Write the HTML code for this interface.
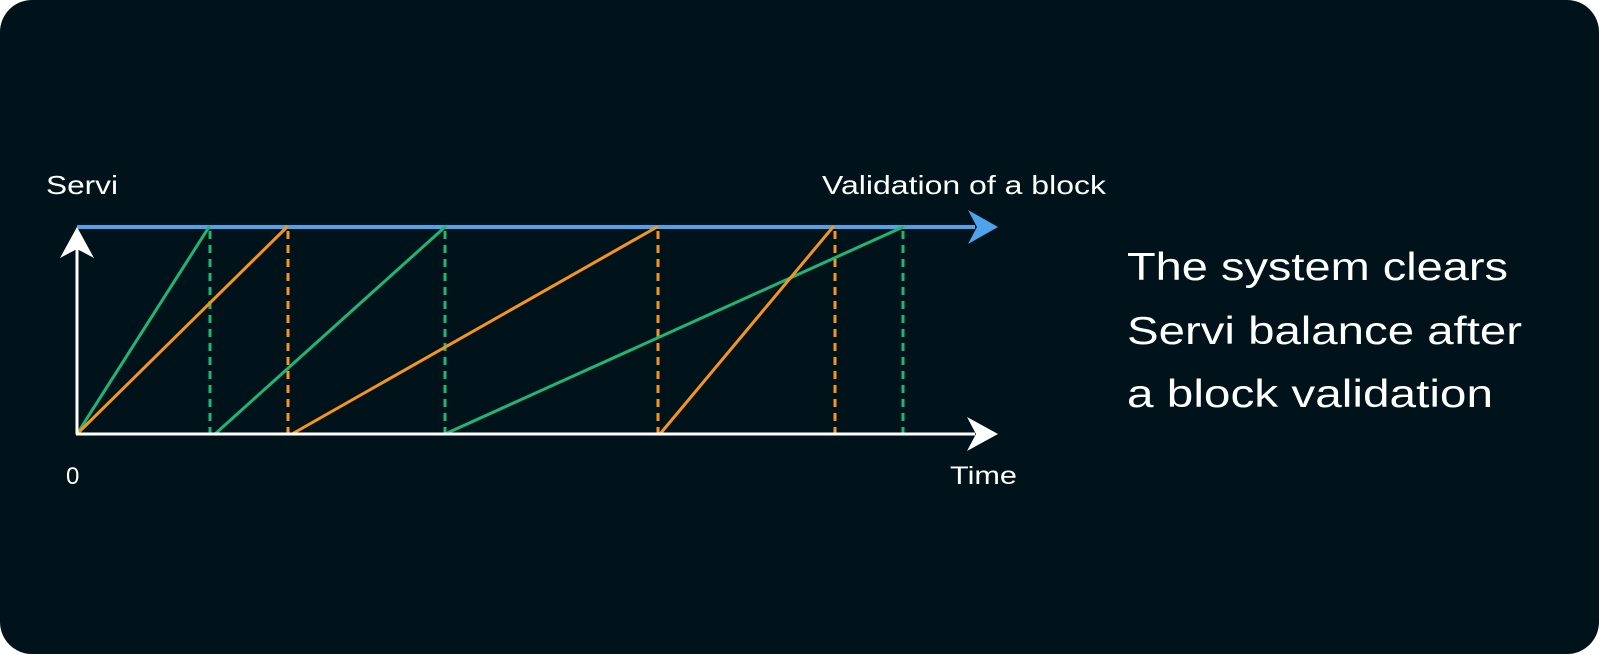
<!DOCTYPE html>
<html><head><style>
html,body{margin:0;padding:0;background:#fff;}
svg{display:block}
</style></head><body>
<svg width="1600" height="655" viewBox="0 0 1600 655" xmlns="http://www.w3.org/2000/svg">
<rect x="0" y="0" width="1599" height="654" rx="32" ry="32" fill="#00131b"/>
<g font-family="Liberation Sans, sans-serif" fill="#ffffff">
<text x="46" y="194" font-size="26" textLength="72" lengthAdjust="spacingAndGlyphs">Servi</text>
<text x="822" y="194" font-size="26" textLength="284" lengthAdjust="spacingAndGlyphs">Validation of a block</text>
<text x="66" y="484" font-size="24">0</text>
<text x="950" y="484" font-size="25" textLength="67" lengthAdjust="spacingAndGlyphs">Time</text>
<text x="1127" y="280" font-size="39" textLength="381" lengthAdjust="spacingAndGlyphs">The system clears</text>
<text x="1127" y="344" font-size="39" textLength="395" lengthAdjust="spacingAndGlyphs">Servi balance after</text>
<text x="1127" y="407" font-size="39" textLength="366" lengthAdjust="spacingAndGlyphs">a block validation</text>
</g>
<!-- dashed verticals -->
<g stroke-width="3" stroke-dasharray="8,6" fill="none">
<line x1="210" y1="231" x2="210" y2="434" stroke="#1fb574"/>
<line x1="288" y1="231" x2="288" y2="434" stroke="#f7941d"/>
<line x1="445" y1="231" x2="445" y2="434" stroke="#1fb574"/>
<line x1="658" y1="231" x2="658" y2="434" stroke="#f7941d"/>
<line x1="835" y1="231" x2="835" y2="434" stroke="#f7941d"/>
<line x1="903" y1="231" x2="903" y2="434" stroke="#1fb574"/>
</g>
<!-- blue top line -->
<line x1="77" y1="227" x2="975" y2="227" stroke="#4ea3ea" stroke-width="4"/>
<polygon points="998,227 968,210 977,227 968,244" fill="#4ea3ea"/>
<!-- sloped lines -->
<g stroke-width="3" fill="none" stroke-linecap="round">
<line x1="77" y1="434" x2="209" y2="227" stroke="#1fb574"/>
<line x1="77" y1="434" x2="287" y2="227" stroke="#f7941d"/>
<line x1="215" y1="434" x2="445" y2="227" stroke="#1fb574"/>
<line x1="292" y1="434" x2="657" y2="227" stroke="#f7941d"/>
<line x1="445" y1="434" x2="903" y2="227" stroke="#1fb574"/>
<line x1="660" y1="434" x2="833" y2="227" stroke="#f7941d"/>
</g>
<!-- axes -->
<line x1="77" y1="434" x2="77" y2="245" stroke="#ffffff" stroke-width="3"/>
<polygon points="77,227 60,258 77,249 94,258" fill="#ffffff"/>
<line x1="76" y1="434" x2="975" y2="434" stroke="#ffffff" stroke-width="3"/>
<polygon points="998,434 967,417 976,434 967,451" fill="#ffffff"/>
</svg>
</body></html>
